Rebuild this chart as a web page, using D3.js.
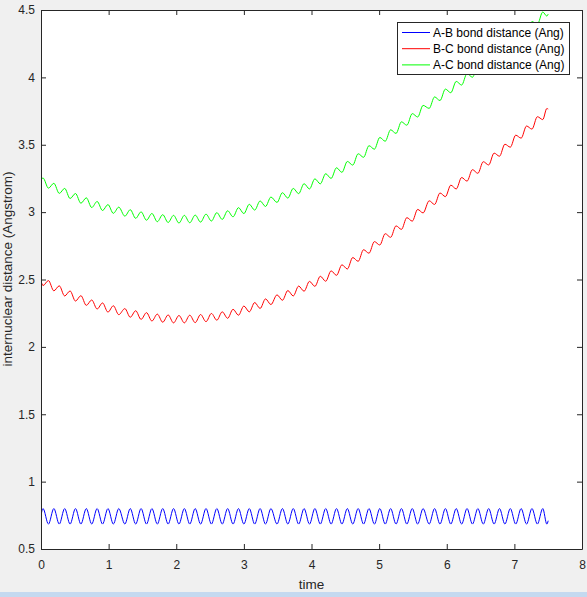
<!DOCTYPE html>
<html>
<head>
<meta charset="utf-8">
<script src="https://cdn.jsdelivr.net/npm/d3@7"></script>
<style>
  html, body { margin: 0; padding: 0; background: #f0f0f0; overflow: hidden; }
  text { font-family: "Liberation Sans", Arial, Helvetica, sans-serif; }
</style>
</head>
<body>
<script>
var width = 587, height = 597;

// sample times (s), read at the extrema of the vibration
var times = [0, 0.03, 0.11, 0.19, 0.27, 0.35, 0.43, 0.51, 0.59, 0.67, 0.75, 0.83, 0.91, 0.99,
  1.07, 1.15, 1.24, 1.32, 1.40, 1.48, 1.56, 1.64, 1.72, 1.80, 1.88, 1.96, 2.04, 2.12, 2.20,
  2.28, 2.36, 2.44, 2.52, 2.60, 2.68, 2.76, 2.84, 2.92, 3.00, 3.08, 3.16, 3.24, 3.32, 3.40,
  3.49, 3.57, 3.65, 3.73, 3.81, 3.89, 3.97, 4.05, 4.13, 4.21, 4.29, 4.37, 4.45, 4.53, 4.61,
  4.69, 4.77, 4.85, 4.93, 5.01, 5.09, 5.17, 5.25, 5.33, 5.41, 5.49, 5.57, 5.65, 5.74, 5.82,
  5.90, 5.98, 6.06, 6.14, 6.22, 6.30, 6.38, 6.46, 6.54, 6.62, 6.70, 6.78, 6.86, 6.94, 7.02,
  7.10, 7.18, 7.26, 7.34, 7.42, 7.48, 7.50];

var abDist = [0.75, 0.80, 0.685, 0.80, 0.685, 0.80, 0.685, 0.80, 0.685, 0.80, 0.685, 0.80, 0.685, 0.80,
  0.685, 0.80, 0.685, 0.80, 0.685, 0.80, 0.685, 0.80, 0.685, 0.80, 0.685, 0.80, 0.685, 0.80, 0.685,
  0.80, 0.685, 0.80, 0.685, 0.80, 0.685, 0.80, 0.685, 0.80, 0.685, 0.80, 0.685, 0.80, 0.685, 0.80,
  0.685, 0.80, 0.685, 0.80, 0.685, 0.80, 0.685, 0.80, 0.685, 0.80, 0.685, 0.80, 0.685, 0.80, 0.685,
  0.80, 0.685, 0.80, 0.685, 0.80, 0.685, 0.80, 0.685, 0.80, 0.685, 0.80, 0.685, 0.80, 0.685, 0.80,
  0.685, 0.80, 0.685, 0.80, 0.685, 0.80, 0.685, 0.80, 0.685, 0.80, 0.685, 0.80, 0.685, 0.80, 0.685,
  0.80, 0.685, 0.80, 0.685, 0.80, 0.685, 0.71];

var bcDist = [2.49, 2.455, 2.492, 2.416, 2.453, 2.378, 2.415, 2.340, 2.380, 2.308, 2.348, 2.281, 2.326, 2.258,
  2.305, 2.239, 2.284, 2.220, 2.268, 2.204, 2.254, 2.192, 2.243, 2.183, 2.237, 2.178, 2.233, 2.178, 2.235,
  2.180, 2.240, 2.187, 2.248, 2.198, 2.260, 2.212, 2.279, 2.235, 2.303, 2.260, 2.329, 2.285, 2.356, 2.314,
  2.386, 2.346, 2.418, 2.378, 2.451, 2.413, 2.486, 2.449, 2.524, 2.487, 2.564, 2.531, 2.609, 2.578, 2.663,
  2.635, 2.721, 2.695, 2.781, 2.756, 2.840, 2.813, 2.898, 2.872, 2.959, 2.933, 3.020, 2.994, 3.084, 3.057,
  3.142, 3.115, 3.200, 3.172, 3.257, 3.230, 3.315, 3.288, 3.374, 3.350, 3.438, 3.415, 3.504, 3.482, 3.571,
  3.549, 3.639, 3.616, 3.708, 3.687, 3.769, 3.765];

var acDist = [3.245, 3.253, 3.178, 3.214, 3.139, 3.176, 3.101, 3.138, 3.066, 3.106, 3.034, 3.079, 3.012, 3.056,
  2.991, 3.037, 2.970, 3.018, 2.954, 3.002, 2.940, 2.990, 2.929, 2.981, 2.923, 2.976, 2.919, 2.976, 2.921,
  2.978, 2.926, 2.985, 2.934, 2.996, 2.946, 3.010, 2.965, 3.033, 2.989, 3.058, 3.015, 3.083, 3.042, 3.112,
  3.072, 3.144, 3.104, 3.176, 3.137, 3.211, 3.172, 3.247, 3.210, 3.285, 3.250, 3.329, 3.295, 3.376, 3.349,
  3.433, 3.407, 3.493, 3.467, 3.554, 3.526, 3.611, 3.584, 3.670, 3.645, 3.731, 3.706, 3.792, 3.770, 3.855,
  3.828, 3.913, 3.886, 3.970, 3.943, 4.028, 4.001, 4.086, 4.060, 4.148, 4.124, 4.213, 4.190, 4.280, 4.257,
  4.347, 4.325, 4.414, 4.394, 4.485, 4.455, 4.47];

var seriesNames = ["A-B bond distance (Ang)", "B-C bond distance (Ang)", "A-C bond distance (Ang)"];
var seriesColors = ["#0000ff", "#ff0000", "#00ff00"];
var xTicks = [0, 1, 2, 3, 4, 5, 6, 7, 8];
var yTicks = [0.5, 1, 1.5, 2, 2.5, 3, 3.5, 4, 4.5];

var plotLeft = 41, plotRight = 582, plotTop = 10, plotBottom = 549;
var axisColor = "#262626";

var svg = d3.select("body")
.append("svg")
.attr("width", width)
.attr("height", height);

svg.append("rect")
  .attr("width", width).attr("height", height).attr("fill", "#f0f0f0");
svg.append("rect")
  .attr("x", 0).attr("y", 592).attr("width", width).attr("height", 5)
  .attr("fill", "#c4d9f0");

var x = d3.scaleLinear().domain([0, 8]).range([plotLeft, plotRight]);
var y = d3.scaleLinear().domain([0.5, 4.5]).range([plotBottom, plotTop]);

svg.append("rect")
  .attr("x", plotLeft).attr("y", plotTop)
  .attr("width", plotRight - plotLeft).attr("height", plotBottom - plotTop)
  .attr("fill", "white");

svg.append("defs").append("clipPath").attr("id", "plotClip")
  .append("rect")
  .attr("x", plotLeft).attr("y", plotTop)
  .attr("width", plotRight - plotLeft).attr("height", plotBottom - plotTop);

var series = [abDist, bcDist, acDist];
var line = d3.line()
  .x(function(d) { return x(d[0]); })
  .y(function(d) { return y(d[1]); })
  .curve(d3.curveMonotoneX);

svg.append("g").attr("clip-path", "url(#plotClip)")
  .selectAll(".bond")
  .data(series)
  .enter().append("path")
  .attr("class", "bond")
  .attr("fill", "none")
  .attr("stroke", function(d, i) { return seriesColors[i]; })
  .attr("stroke-width", 1)
  .attr("d", function(vals) {
    return line(times.map(function(t, j) { return [t, vals[j]]; }));
  });

// axes, ticks pointing inward like matlab
function styleAxis(g) {
  g.selectAll("path, line").attr("stroke", axisColor);
  g.selectAll("text").attr("fill", axisColor).style("font-size", "12px")
    .style("font-family", '"Liberation Sans", Arial, sans-serif');
}

svg.append("g")
  .attr("transform", "translate(0," + plotBottom + ")")
  .call(d3.axisBottom(x).tickValues(xTicks).tickSizeInner(-5).tickSizeOuter(0).tickPadding(11)
    .tickFormat(d3.format("d")))
  .call(styleAxis);

svg.append("g")
  .attr("transform", "translate(0," + plotTop + ")")
  .call(d3.axisTop(x).tickValues(xTicks).tickSizeInner(-5).tickSizeOuter(0).tickFormat(""))
  .call(styleAxis);

svg.append("g")
  .attr("transform", "translate(" + plotLeft + ",0)")
  .call(d3.axisLeft(y).tickValues(yTicks).tickSizeInner(-5).tickSizeOuter(0).tickPadding(6)
    .tickFormat(function(d) { return String(d); }))
  .call(styleAxis);

svg.append("g")
  .attr("transform", "translate(" + plotRight + ",0)")
  .call(d3.axisRight(y).tickValues(yTicks).tickSizeInner(-5).tickSizeOuter(0).tickFormat(""))
  .call(styleAxis);

svg.selectAll(".domain").attr("stroke-width", 1);

// axis labels
svg.append("text")
  .attr("x", x(4)).attr("y", 589)
  .attr("text-anchor", "middle")
  .attr("fill", axisColor)
  .style("font-size", "13.5px")
  .text("time");

svg.append("text")
  .attr("transform", "translate(12,269) rotate(-90)")
  .attr("text-anchor", "middle")
  .attr("fill", axisColor)
  .style("font-size", "13.5px")
  .text("internuclear distance (Angstrom)");

// legend
var legend = svg.append("g").attr("transform", "translate(397,22)");
legend.append("rect")
  .attr("x", 0.5).attr("y", 0.5).attr("width", 172).attr("height", 52)
  .attr("fill", "white").attr("stroke", axisColor);

var items = legend.selectAll(".item")
  .data(seriesNames)
  .enter().append("g")
  .attr("class", "item")
  .attr("transform", function(d, i) { return "translate(0," + (10.5 + i * 16.2) + ")"; });

items.append("line")
  .attr("x1", 5).attr("x2", 33).attr("y1", 0).attr("y2", 0)
  .attr("stroke", function(d, i) { return seriesColors[i]; });

items.append("text")
  .attr("x", 36).attr("y", 0).attr("dy", "0.35em")
  .attr("fill", "#000")
  .style("font-size", "12px")
  .text(function(d) { return d; });
</script>
</body>
</html>
